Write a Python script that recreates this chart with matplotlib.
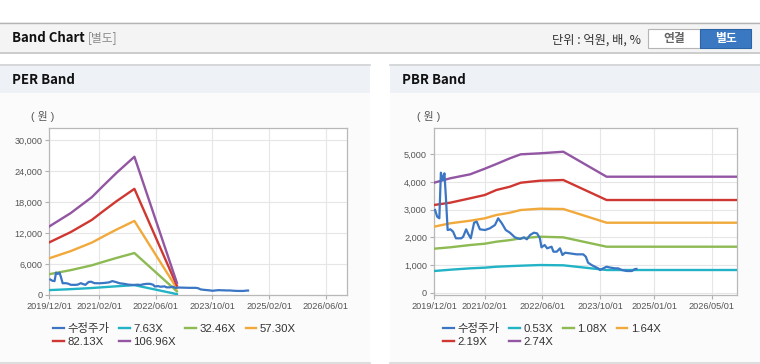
import matplotlib
matplotlib.use('Agg')
import matplotlib.pyplot as plt
from matplotlib.patches import Rectangle
from matplotlib.lines import Line2D
from matplotlib.ticker import FuncFormatter
import pandas as pd

plt.rcParams['font.family'] = ['Liberation Sans', 'Noto Sans CJK KR']

# adjusted close (수정주가), shared by both panels
price_dates = ['2019-12-10', '2019-12-28', '2020-01-15', '2020-01-28', '2020-02-12', '2020-02-27',
               '2020-03-10', '2020-03-25', '2020-04-18', '2020-05-10', '2020-06-03', '2020-07-18',
               '2020-08-03', '2020-08-28', '2020-09-15', '2020-10-06', '2020-11-03', '2020-11-25',
               '2020-12-22', '2021-02-03', '2021-03-16', '2021-04-28', '2021-05-25', '2021-06-25',
               '2021-07-28', '2021-09-01', '2021-10-13', '2021-11-25', '2021-12-28', '2022-01-22',
               '2022-02-18', '2022-03-22', '2022-04-18', '2022-05-12', '2022-05-25', '2022-06-21',
               '2022-07-12', '2022-08-18', '2022-09-03', '2022-10-01', '2022-10-28', '2022-11-18',
               '2022-12-10', '2023-01-22', '2023-03-16', '2023-05-12', '2023-06-03', '2023-06-22',
               '2023-07-22', '2023-08-18', '2023-09-15', '2023-10-01', '2023-10-28', '2023-11-25',
               '2023-12-28', '2024-02-03', '2024-03-01', '2024-04-01', '2024-05-12', '2024-06-25',
               '2024-07-22', '2024-08-03']
price = [2988, 2746, 2688, 4336, 4072, 4313,
         3469, 2265, 2290, 2204, 1965, 1965,
         2023, 2290, 2121, 1965, 2530, 2565,
         2290, 2265, 2326, 2446, 2688, 2507,
         2265, 2168, 2000, 1940, 2000, 1929,
         2085, 2168, 2144, 1965, 1640, 1723,
         1603, 1662, 1482, 1482, 1603, 1362,
         1445, 1420, 1386, 1386, 1300, 1084,
         1000, 939, 880, 820, 880, 939,
         905, 880, 880, 820, 784, 784,
         856, 860]

# PER band
per_dates = ['2019-12-01', '2020-06-01', '2020-12-01', '2021-03-01', '2021-07-01', '2021-12-01', '2022-12-01']
per_labels = ['7.63X', '32.46X', '57.30X', '82.13X', '106.96X']
per_7 = [946, 1129, 1351, 1495, 1686, 1908, 168]
per_32 = [4025, 4804, 5745, 6362, 7174, 8115, 714]
per_57 = [7105, 8480, 10142, 11231, 12663, 14325, 1261]
per_82 = [10184, 12155, 14537, 16097, 18151, 20533, 1807]
per_106 = [13263, 15830, 18932, 20964, 23638, 26740, 2353]

# PBR band
pbr_dates = ['2019-12-01', '2020-04-15', '2020-10-01', '2021-02-01', '2021-05-10', '2021-09-01',
             '2021-12-01', '2022-05-12', '2022-11-25', '2023-11-25', '2026-12-01']
pbr_labels = ['0.53X', '1.08X', '1.64X', '2.19X', '2.74X']
pbr_053 = [784, 830, 880, 905, 939, 960, 976, 1000, 990, 820, 820]
pbr_108 = [1590, 1640, 1723, 1770, 1843, 1900, 1965, 2023, 2000, 1662, 1662]
pbr_164 = [2385, 2507, 2601, 2688, 2807, 2890, 2988, 3035, 3024, 2529, 2529]
pbr_219 = [3169, 3252, 3411, 3530, 3711, 3830, 3974, 4047, 4072, 3349, 3349]
pbr_274 = [3974, 4133, 4278, 4480, 4650, 4856, 5000, 5036, 5094, 4191, 4191]

per_ticks = ['2019-12-01', '2021-02-01', '2022-06-01', '2023-10-01', '2025-02-01', '2026-06-01']
pbr_ticks = ['2019-12-01', '2021-02-01', '2022-06-01', '2023-10-01', '2025-01-01', '2026-05-01']

colors = ['#3a76c4', '#22b3c6', '#8dba52', '#f2a93b', '#cf3832', '#9256a3']

W, H = 760, 364
fig = plt.figure(figsize=(W / 100, H / 100), dpi=100)


def fx(px):
    return px / W


def fy(py):
    return 1 - py / H


def box(x0, y0, x1, y1, **kw):
    kw.setdefault('zorder', -5)
    kw.setdefault('linewidth', 0)
    fig.add_artist(Rectangle((fx(x0), fy(y1)), (x1 - x0) / W, (y1 - y0) / H,
                             transform=fig.transFigure, **kw))


def hline(x0, x1, y, color, lw=1):
    fig.add_artist(Line2D([fx(x0), fx(x1)], [fy(y), fy(y)], transform=fig.transFigure,
                          color=color, linewidth=lw, zorder=-4))


# page header
box(0, 22, 760, 52, facecolor='#f4f4f4')
hline(0, 760, 22.5, '#b4b4b4')
hline(0, 760, 52.5, '#c4c4c4', lw=1.2)
fig.text(fx(12), fy(38), 'Band Chart', fontsize=9.5, fontweight='bold', color='#111111',
         family=['Noto Sans CJK KR'], va='center')
fig.text(fx(88), fy(38), '[별도]', fontsize=8.5, color='#8a8a8a',
         family=['Noto Sans CJK KR'], va='center')
fig.text(fx(641), fy(40), '단위 : 억원, 배, %', fontsize=8.8, color='#333333',
         family=['Noto Sans CJK KR'], va='center', ha='right')
box(648, 29, 700, 48, facecolor='white', edgecolor='#b5b5b5', linewidth=0.8, zorder=-3)
box(700, 29, 751, 48, facecolor='#3a79c2', edgecolor='#2c64a6', linewidth=0.8, zorder=-3)
fig.text(fx(674), fy(38.5), '연결', fontsize=8.5, fontweight='bold', color='#666666',
         family=['Noto Sans CJK KR'], va='center', ha='center')
fig.text(fx(725.5), fy(38.5), '별도', fontsize=8.5, fontweight='bold', color='white',
         family=['Noto Sans CJK KR'], va='center', ha='center')

# panels
for px0, px1, title in [(0, 370, 'PER Band'), (390, 760, 'PBR Band')]:
    box(px0, 64, px1, 93, facecolor='#eef2f7')
    box(px0, 93, px1, 362, facecolor='#fbfbfb')
    hline(px0, px1, 64.5, '#d2d2d2', lw=1.2)
    hline(px0, px1, 362.5, '#d8d8d8', lw=1.2)
    fig.text(fx(px0 + 12), fy(80), title, fontsize=9.5, fontweight='bold', color='#111111',
             family=['Noto Sans CJK KR'], va='center')


def style_axes(ax, ticks, ylim, yticks):
    ax.set_facecolor('white')
    ax.set_xlim(pd.Timestamp('2019-12-01'), pd.Timestamp('2026-12-01'))
    ax.set_ylim(*ylim)
    ax.set_yticks(yticks)
    ax.yaxis.set_major_formatter(FuncFormatter(lambda v, p: f'{v:,.0f}'))
    ax.set_xticks(pd.to_datetime(ticks))
    ax.set_xticklabels([t.replace('-', '/') for t in ticks])
    ax.grid(True, color='#e6e6e6', linewidth=0.8)
    ax.set_axisbelow(True)
    for s in ax.spines.values():
        s.set_color('#b8b8b8')
        s.set_linewidth(0.9)
    ax.tick_params(length=3, width=0.8, color='#b0b0b0', labelsize=6.6,
                   labelcolor='#555555', pad=2)


def draw_panel(ax, band_dates, bands, labels, ticks, ylim, yticks, leg_x):
    d = pd.to_datetime(band_dates)
    handles = []
    h, = ax.plot(pd.to_datetime(price_dates), price, color=colors[0], lw=1.6, zorder=4)
    handles.append((h, '수정주가'))
    for vals, lab, c in zip(bands, labels, colors[1:]):
        h, = ax.plot(d, vals, color=c, lw=1.7, zorder=3)
        handles.append((h, lab))
    style_axes(ax, ticks, ylim, yticks)
    order = [0, 4, 1, 5, 2, 3]
    fig.legend([handles[i][0] for i in order], [handles[i][1] for i in order],
               loc='upper left', bbox_to_anchor=(fx(leg_x), fy(323)), ncol=4,
               frameon=False, fontsize=8.2, handlelength=0.95, handletextpad=0.3,
               columnspacing=0.85, labelspacing=0.22, borderpad=0, borderaxespad=0,
               labelcolor='#333333')


ax1 = fig.add_axes([fx(49.3), fy(295), 297.7 / W, 167 / H])
draw_panel(ax1, per_dates, [per_7, per_32, per_57, per_82, per_106], per_labels,
           per_ticks, (0, 32300), [0, 6000, 12000, 18000, 24000, 30000], 53)
fig.text(fx(43), fy(117), '( 원 )', fontsize=7.8, color='#555555', ha='center', va='center')

ax2 = fig.add_axes([fx(434), fy(295), 303.3 / W, 167 / H])
draw_panel(ax2, pbr_dates, [pbr_053, pbr_108, pbr_164, pbr_219, pbr_274], pbr_labels,
           pbr_ticks, (-83, 5951), [0, 1000, 2000, 3000, 4000, 5000], 443)
fig.text(fx(429), fy(117), '( 원 )', fontsize=7.8, color='#555555', ha='center', va='center')

plt.savefig('out.png', dpi=100)
